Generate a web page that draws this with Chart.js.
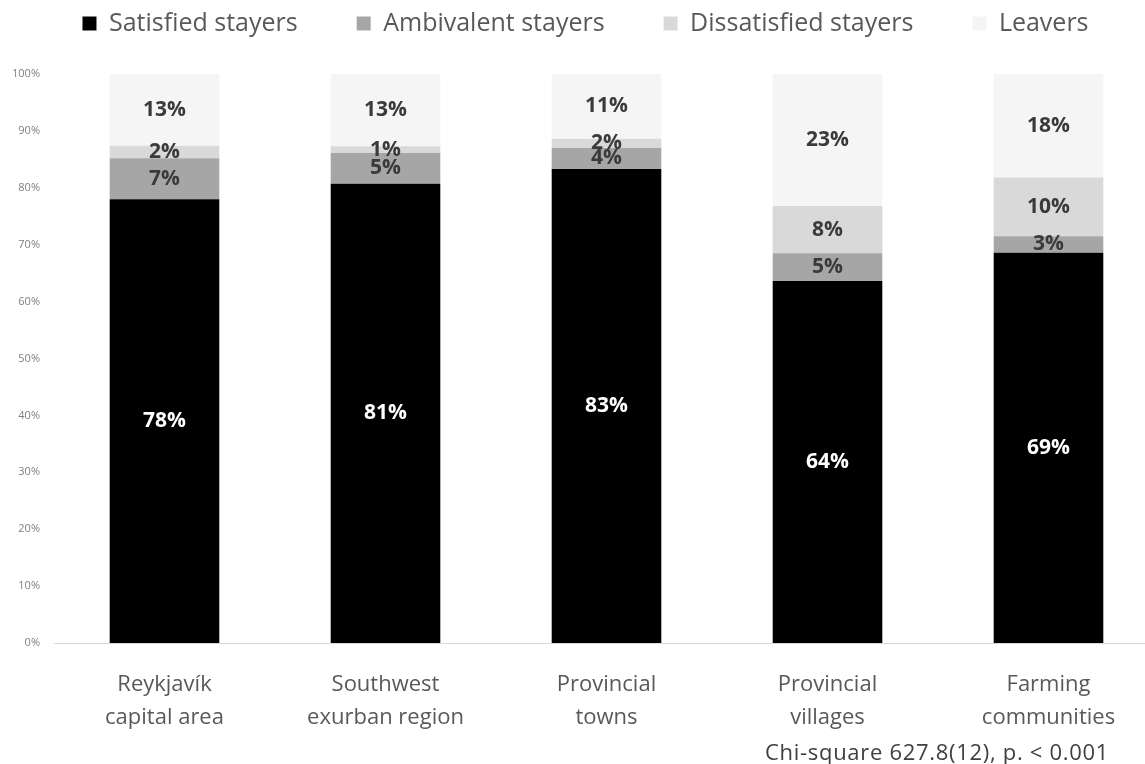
<!DOCTYPE html>
<html>
<head>
<meta charset="utf-8">
<script src="https://cdn.jsdelivr.net/npm/chart.js@4.4.1/dist/chart.umd.min.js"></script>
<style>
  html, body { margin: 0; padding: 0; background: #ffffff; overflow: hidden; width: 1145px; height: 764px; }
  #wrap { position: absolute; left: 0; top: 0; width: 1160px; height: 764px; }
  #note { position: absolute; left: 765px; top: 736px; font-family: "Open Sans", sans-serif; font-size: 22px; line-height: 30px; letter-spacing: 0.7px; color: #404040; white-space: nowrap; }
</style>
</head>
<body>
<div id="wrap"><canvas id="c"></canvas></div>
<div id="note">Chi-square 627.8(12), p. &lt; 0.001</div>
<script>
const categories = [
  ['Reykjavík', 'capital area'],
  ['Southwest', 'exurban region'],
  ['Provincial', 'towns'],
  ['Provincial', 'villages'],
  ['Farming', 'communities']
];
const seriesNames = ['Satisfied stayers', 'Ambivalent stayers', 'Dissatisfied stayers', 'Leavers'];
const satisfied    = [78.0, 80.7, 83.3, 63.6, 68.6];
const ambivalent   = [7.2, 5.4, 3.7, 4.9, 2.9];
const dissatisfied = [2.2, 1.2, 1.6, 8.3, 10.3];
const leavers      = [12.6, 12.7, 11.4, 23.2, 18.2];
const yTicks = [0, 10, 20, 30, 40, 50, 60, 70, 80, 90, 100];

const colors = ['#000000', '#a6a6a6', '#d9d9d9', '#f5f5f5'];
const labelColors = ['#ffffff', '#3a3a3a', '#3a3a3a', '#3a3a3a'];
const seriesData = [satisfied, ambivalent, dissatisfied, leavers];

const segLabels = {
  id: 'segLabels',
  afterDatasetsDraw(chart) {
    const ctx = chart.ctx;
    ctx.save();
    ctx.font = 'bold 21px "Open Sans", sans-serif';
    ctx.textAlign = 'center';
    ctx.textBaseline = 'middle';
    chart.data.datasets.forEach((ds, di) => {
      const meta = chart.getDatasetMeta(di);
      meta.data.forEach((el, i) => {
        const v = ds.data[i];
        const yMid = (el.y + el.base) / 2;
        ctx.fillStyle = labelColors[di];
        ctx.fillText(Math.round(v) + '%', el.x, yMid);
      });
    });
    ctx.restore();
  }
};

// give the legend extra room below it, so the plot starts lower
const legendSpace = {
  id: 'legendSpace',
  beforeInit(chart) {
    const lg = chart.legend;
    if (!lg) return;
    const origFit = lg.fit;
    lg.fit = function () {
      origFit.call(this);
      this.height += 28;
    };
  }
};

new Chart(document.getElementById('c'), {
  type: 'bar',
  data: {
    labels: categories,
    datasets: seriesNames.map((name, i) => ({
      label: name,
      data: seriesData[i],
      backgroundColor: colors[i],
      borderWidth: 0,
      categoryPercentage: 1.0,
      barPercentage: 0.496
    }))
  },
  options: {
    responsive: true,
    maintainAspectRatio: false,
    animation: false,
    layout: { padding: { left: 12, right: 1, top: -48, bottom: 0 } },
    plugins: {
      legend: {
        position: 'top',
        labels: {
          boxWidth: 14, boxHeight: 14,
          color: '#595959',
          font: { family: '"Open Sans", sans-serif', size: 25 },
          padding: 59
        }
      },
      tooltip: { enabled: false }
    },
    scales: {
      x: {
        stacked: true,
        afterFit(scale) { scale.height = 121; },
        grid: { display: false, drawTicks: false },
        border: { display: true, color: '#d9d9d9', width: 1 },
        ticks: {
          color: '#595959',
          font: { family: '"Open Sans", sans-serif', size: 22, lineHeight: 1.5 },
          padding: 25,
          maxRotation: 0
        }
      },
      y: {
        stacked: true,
        min: 0, max: 100,
        afterBuildTicks(scale) { scale.ticks = yTicks.map(v => ({ value: v })); },
        afterFit(scale) { scale.width = 42; },
        grid: { display: false, drawTicks: false },
        border: { display: false },
        ticks: {
          color: '#808080',
          font: { family: '"Open Sans", sans-serif', size: 11 },
          padding: 14,
          callback: v => v + '%'
        }
      }
    }
  },
  plugins: [segLabels, legendSpace]
});
</script>
</body>
</html>
